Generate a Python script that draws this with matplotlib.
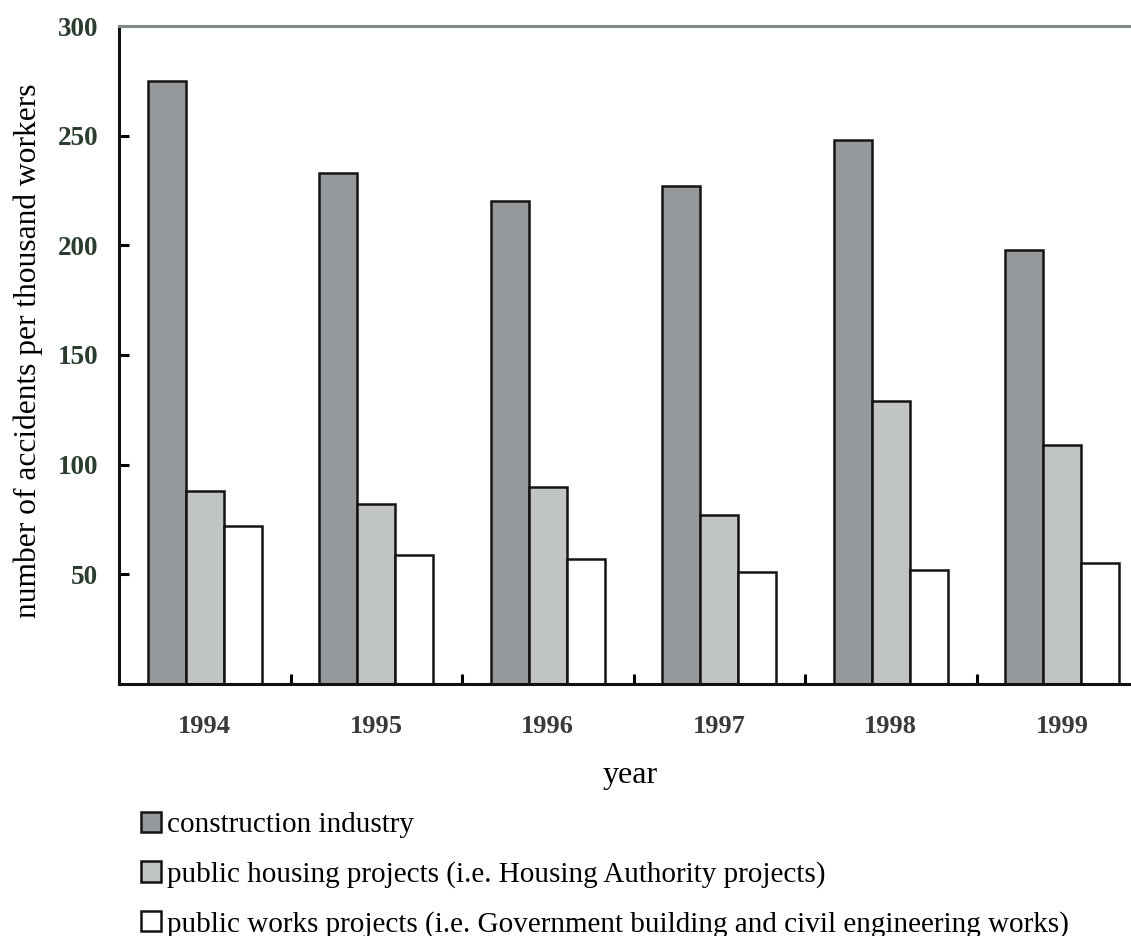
import numpy as np
import matplotlib
matplotlib.use("Agg")
from matplotlib import pyplot as plt

years = ["1994", "1995", "1996", "1997", "1998", "1999"]
construction = [275, 233, 220, 227, 248, 198]
public_housing = [88, 82, 90, 77, 129, 109]
public_works = [72, 59, 57, 51, 52, 55]

labels = ["construction industry",
          "public housing projects (i.e. Housing Authority projects)",
          "public works projects (i.e. Government building and civil engineering works)"]
colors = ["#95999b", "#c1c4c5", "#ffffff"]

plt.rcParams['font.family'] = ['Liberation Serif', 'DejaVu Serif']

fig = plt.figure(figsize=(11.31, 9.36), dpi=100)
ax = fig.add_axes([119 / 1131, 1 - 684 / 936, 1029 / 1131, 658 / 936])

x = np.arange(len(years))
w = 0.222
bars = []
for i, (vals, c) in enumerate(zip([construction, public_housing, public_works], colors)):
    b = ax.bar(x + (i - 1) * w, vals, w, color=c, edgecolor="#141414", linewidth=1.8)
    bars.append(b)

ax.set_xlim(-0.5, len(years) - 0.5)
ax.set_ylim(0, 300)
ax.set_yticks([50, 100, 150, 200, 250, 300])
ax.set_yticklabels(["50", "100", "150", "200", "250", "300"],
                   fontsize=19.5, fontweight="bold", color="#2b3d2e")
ax.set_xticks(x)
ax.set_xticklabels(years, fontsize=19, fontweight="bold", color="#3a3a3a")
# small marks between the year groups
ax.set_xticks(x[:-1] + 0.5, minor=True)
ax.tick_params(axis="x", which="major", length=0, pad=22)
ax.tick_params(axis="x", which="minor", direction="in", length=7, width=2.2)
ax.tick_params(axis="y", direction="in", length=7, width=2.2, pad=15)

for s in ["left", "bottom"]:
    ax.spines[s].set_linewidth(2.2)
    ax.spines[s].set_color("#111111")
ax.spines["top"].set_linewidth(2.2)
ax.spines["top"].set_color("#7f8a88")
ax.spines["right"].set_visible(False)

ax.set_ylabel("number of accidents per thousand workers", fontsize=22.7, va="center")
ax.yaxis.set_label_coords((28 - 119) / 1029, (684 - 351) / 658)
ax.set_xlabel("year", fontsize=23, va="center")
ax.xaxis.set_label_coords((630 - 119) / 1029, (684 - 776) / 658)

fig.legend(bars, labels, loc="upper left", bbox_to_anchor=(141 / 1131, 1 - 812 / 936),
           frameon=False, fontsize=21, handlelength=0.7, handleheight=0.7,
           handletextpad=0.2, labelspacing=0.78, borderaxespad=0, borderpad=0)

fig.savefig("out.png", dpi=100)
